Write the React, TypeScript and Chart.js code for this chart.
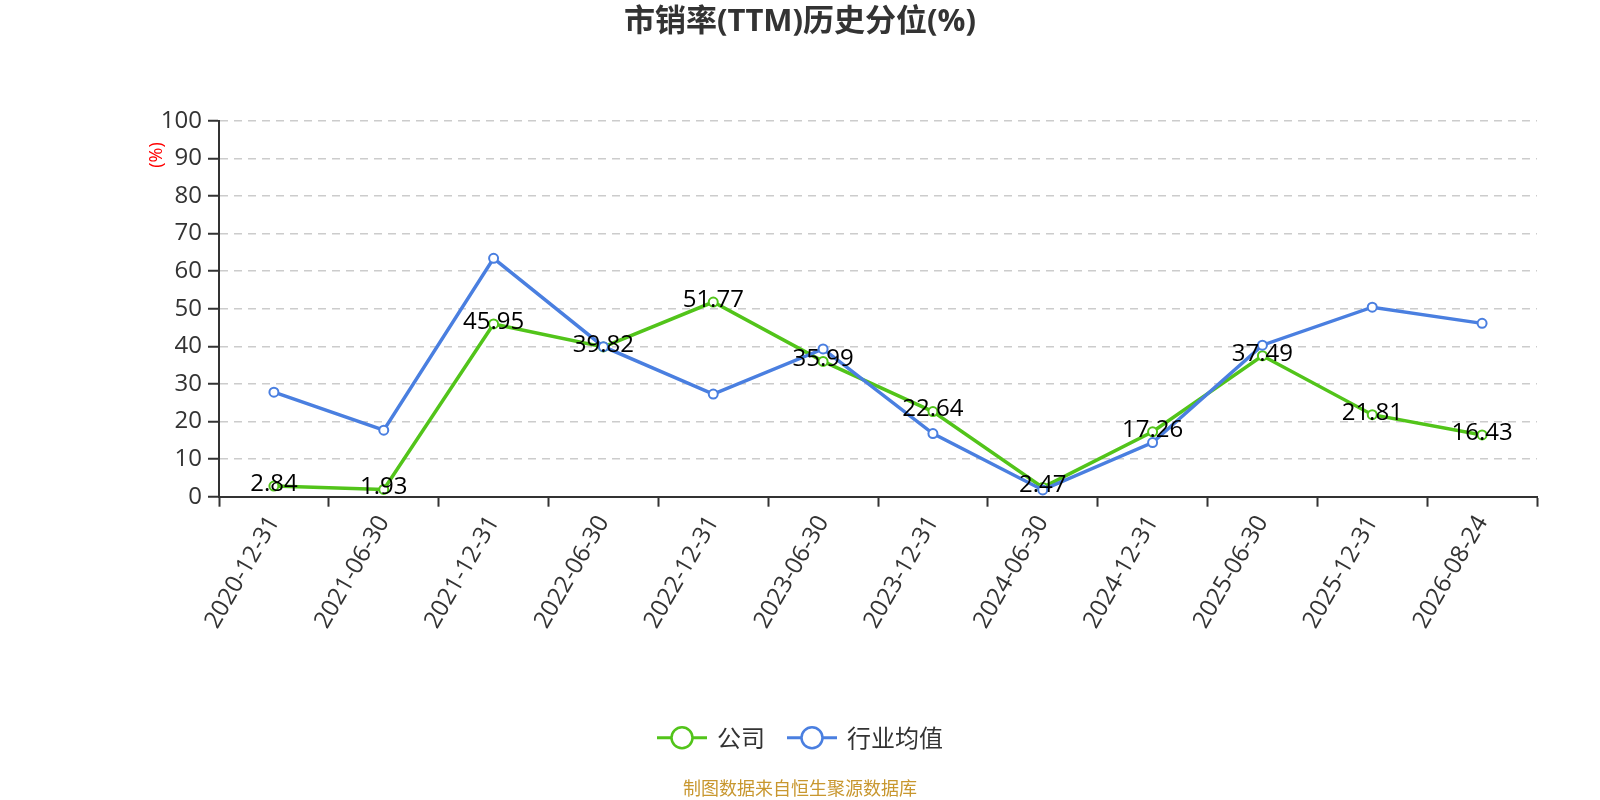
import React, { useEffect, useRef } from "react";
import { Chart, registerables } from "chart.js";

Chart.register(...registerables);

const title = "市销率(TTM)历史分位(%)";
const yAxisTitle = "(%)";
const footerText = "制图数据来自恒生聚源数据库";
const categories = [
  "2020-12-31", "2021-06-30", "2021-12-31", "2022-06-30", "2022-12-31", "2023-06-30",
  "2023-12-31", "2024-06-30", "2024-12-31", "2025-06-30", "2025-12-31", "2026-08-24",
];
const companyName = "公司";
const companyValues = [2.84, 1.93, 45.95, 39.82, 51.77, 35.99, 22.64, 2.47, 17.26, 37.49, 21.81, 16.43];
const industryName = "行业均值";
const industryValues = [27.8, 17.7, 63.4, 39.9, 27.3, 39.3, 16.8, 1.8, 14.4, 40.3, 50.4, 46.1];
const yMin = 0;
const yMax = 100;
const yStep = 10;

const GREEN = "#52c41a";
const BLUE = "#4a7fe0";
const FONT = '"Open Sans", "Noto Sans CJK SC", sans-serif';
const CJK = '"Noto Sans CJK SC", sans-serif';

const decorPlugin = {
  id: "decor",
  afterDatasetsDraw(chart: any) {
    const ctx = chart.ctx as CanvasRenderingContext2D;
    const meta = chart.getDatasetMeta(0);
    ctx.save();
    ctx.font = `24px ${FONT}`;
    ctx.fillStyle = "#000";
    ctx.textAlign = "center";
    ctx.textBaseline = "middle";
    meta.data.forEach((pt: any, i: number) => {
      ctx.fillText(String(companyValues[i]), pt.x, pt.y - 2);
    });
    ctx.restore();
  },
  afterDraw(chart: any) {
    const ctx = chart.ctx as CanvasRenderingContext2D;
    const W = chart.width;
    ctx.save();
    // title
    ctx.font = `bold 31px ${FONT}`;
    ctx.fillStyle = "#333";
    ctx.textAlign = "center";
    ctx.textBaseline = "middle";
    ctx.fillText(title, W / 2, 22);

    // y axis title
    ctx.save();
    ctx.translate(156.5, 155);
    ctx.rotate(-Math.PI / 2);
    ctx.font = `18px ${FONT}`;
    ctx.fillStyle = "#ff0000";
    ctx.textAlign = "center";
    ctx.textBaseline = "middle";
    ctx.fillText(yAxisTitle, 0, 0);
    ctx.restore();

    // legend
    ctx.font = `24px ${CJK}`;
    const items = [
      { name: companyName, color: GREEN },
      { name: industryName, color: BLUE },
    ];
    const symW = 50;
    const gapText = 10;
    const gapItem = 22;
    const widths = items.map((it) => symW + gapText + ctx.measureText(it.name).width);
    const total = widths.reduce((a, b) => a + b, 0) + gapItem * (items.length - 1);
    let x = W / 2 - total / 2;
    const ly = 737.7;
    items.forEach((it, i) => {
      ctx.strokeStyle = it.color;
      ctx.lineWidth = 3;
      ctx.beginPath();
      ctx.moveTo(x, ly);
      ctx.lineTo(x + symW, ly);
      ctx.stroke();
      ctx.beginPath();
      ctx.arc(x + symW / 2, ly, 10.5, 0, Math.PI * 2);
      ctx.fillStyle = "#fff";
      ctx.fill();
      ctx.lineWidth = 2.5;
      ctx.stroke();
      ctx.fillStyle = "#333";
      ctx.textAlign = "left";
      ctx.textBaseline = "middle";
      ctx.fillText(it.name, x + symW + gapText, ly);
      x += widths[i] + gapItem;
    });

    // footer
    ctx.font = `18px ${CJK}`;
    ctx.fillStyle = "#c8972f";
    ctx.textAlign = "center";
    ctx.textBaseline = "middle";
    ctx.fillText(footerText, W / 2, 788);
    ctx.restore();
  },
};

export default function App() {
  const canvasRef = useRef<HTMLCanvasElement | null>(null);

  useEffect(() => {
    document.body.style.margin = "0";
    const canvas = canvasRef.current;
    if (!canvas) return;
    const chart = new Chart(canvas, {
      type: "line",
      data: {
        labels: categories,
        datasets: [
          {
            label: companyName,
            data: companyValues,
            borderColor: GREEN,
            backgroundColor: "#fff",
            borderWidth: 3.5,
            pointRadius: 4.5,
            pointBorderWidth: 2,
            pointBackgroundColor: "#fff",
            pointBorderColor: GREEN,
            tension: 0,
            order: 1,
          },
          {
            label: industryName,
            data: industryValues,
            borderColor: BLUE,
            backgroundColor: "#fff",
            borderWidth: 3.5,
            pointRadius: 4.5,
            pointBorderWidth: 2,
            pointBackgroundColor: "#fff",
            pointBorderColor: BLUE,
            tension: 0,
            order: 0,
          },
        ],
      },
      options: {
        animation: false,
        responsive: false,
        maintainAspectRatio: false,
        devicePixelRatio: 1,
        layout: { padding: { top: 120.7, right: 63, bottom: 0, left: 0 } },
        plugins: {
          legend: { display: false },
          title: { display: false },
          tooltip: { enabled: false },
        },
        scales: {
          x: {
            type: "category",
            offset: true,
            grid: {
              offset: true,
              drawOnChartArea: false,
              drawTicks: true,
              tickLength: 10,
              tickColor: "#333",
              tickWidth: 2,
            },
            border: { display: true, color: "#333", width: 2 },
            ticks: {
              color: "#333",
              font: { size: 24, family: FONT },
              maxRotation: 60,
              minRotation: 60,
              autoSkip: false,
              padding: 4,
            },
            afterFit(scale: any) {
              scale.height = 800 - 496.7;
            },
          },
          y: {
            min: yMin,
            max: yMax,
            ticks: {
              stepSize: yStep,
              color: "#333",
              font: { size: 24, family: FONT },
              padding: 6,
            },
            grid: {
              color: "#cccccc",
              lineWidth: 1.5,
              drawTicks: true,
              tickLength: 11,
              tickColor: "#333",
              tickWidth: 2,
              tickBorderDash: [],
            },
            border: { display: true, color: "#333", width: 2, dash: [8, 6] },
            afterFit(scale: any) {
              scale.width = 219;
            },
          },
        },
      },
      plugins: [decorPlugin],
    });
    return () => chart.destroy();
  }, []);

  return (
    <div style={{ width: 1600, height: 800, position: "relative" }}>
      <canvas ref={canvasRef} width={1600} height={800} style={{ width: 1600, height: 800, display: "block" }} />
    </div>
  );
}
